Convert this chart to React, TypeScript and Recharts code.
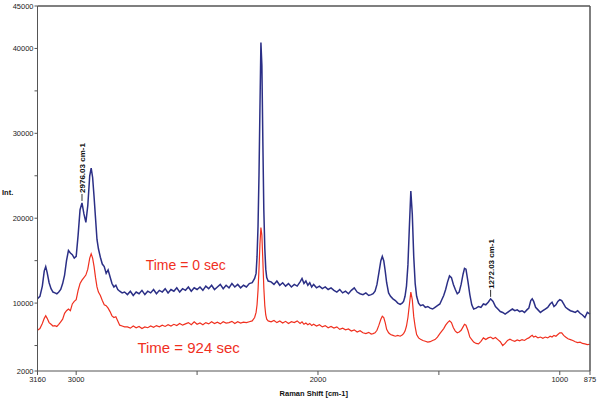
import { LineChart, Line, XAxis, YAxis, ReferenceDot, ReferenceLine } from 'recharts';

// Raman shift (cm-1) sample positions
const shifts = [
  3160, 3150, 3140, 3132, 3126, 3120, 3112, 3104, 3096, 3088, 3080, 3072, 3064, 3056, 3048, 3040, 3032, 3024, 3016, 3008,
  3000, 2992, 2984, 2976, 2968, 2960, 2952, 2944, 2938, 2932, 2926, 2920, 2914, 2908, 2900, 2892, 2884, 2876, 2868, 2860,
  2852, 2844, 2836, 2828, 2820, 2810, 2800,
  2788, 2776, 2764, 2752, 2740, 2728, 2716, 2704, 2692, 2680, 2668, 2656, 2644, 2632, 2620, 2608, 2596, 2584, 2572, 2560,
  2548, 2536, 2524, 2512, 2500, 2488, 2476, 2464, 2452, 2440, 2428, 2416, 2404, 2392, 2380, 2368, 2356, 2344, 2332, 2320,
  2308, 2296, 2284, 2272, 2262,
  2256, 2252, 2248, 2244, 2240, 2236, 2232, 2228, 2224, 2220, 2216, 2212, 2206,
  2194, 2182, 2170, 2158, 2146, 2134, 2122, 2110, 2098, 2086, 2074, 2066, 2058, 2050, 2042, 2034, 2026, 2018, 2006, 1994,
  1982, 1970, 1958, 1946, 1934, 1922, 1910, 1898, 1886, 1874, 1862, 1850, 1838, 1826, 1814, 1802, 1790, 1780,
  1772, 1764, 1756, 1748, 1740, 1734, 1728, 1722, 1716, 1708, 1700, 1690, 1680, 1670, 1660, 1652, 1646, 1640,
  1634, 1628, 1622, 1616, 1610, 1604, 1598, 1592, 1584, 1576, 1566, 1556, 1546, 1536, 1526, 1516, 1506, 1496, 1488, 1480,
  1472, 1464, 1456, 1448, 1440, 1432, 1424, 1416, 1408, 1400, 1394, 1388, 1380, 1372, 1364, 1356, 1346, 1336, 1326, 1316,
  1306, 1296, 1286, 1276, 1266, 1256, 1246, 1236, 1226, 1216, 1206, 1196, 1186, 1176, 1166, 1156, 1146, 1136, 1128, 1120,
  1114, 1108, 1100, 1090, 1080, 1070, 1060, 1050, 1040, 1032, 1024, 1016, 1008, 1000, 992, 984, 976, 966, 956, 946,
  936, 926, 916, 906, 896, 886, 875,
];

// Time = 0 sec (blue)
const time0 = [
  10500, 10800, 12000, 13800, 14300, 13600, 12400, 11700, 11300, 11200, 11100, 11300, 11600, 12300, 13300, 15000, 16200, 15900, 15700, 15300,
  15500, 18000, 21000, 21800, 20500, 19500, 21500, 25000, 25900, 24800, 22500, 20000, 17500, 16400, 15400, 14600, 14300, 13500, 13900, 13100,
  12300, 11900, 12100, 11600, 11400, 11200, 11300,
  11000, 11400, 10900, 11300, 11100, 11500, 11000, 11400, 11200, 11600, 11100, 11500, 11300, 11700, 11200, 11600, 11400, 11800, 11300, 11700,
  11500, 11900, 11400, 11800, 11600, 11900, 11500, 12000, 11700, 12100, 11600, 11900, 12200, 11700, 12100, 11800, 12300, 11900, 12200, 11800,
  12100, 11900, 12300, 12400, 12900,
  13500, 15500, 19000, 25000, 33000, 40700, 38000, 29000, 21000, 16500, 14000, 13000, 12600,
  12500, 12200, 12600, 12100, 12400, 12000, 12300, 11900, 12200, 12000, 12500, 12900, 12300, 12600, 12100, 12400, 11900, 12200, 11800, 12000,
  11700, 11900, 11600, 11800, 11500, 11300, 11600, 11200, 11400, 11100, 11500, 11800, 11300, 11100, 11000, 11200, 10900, 11000,
  11100, 11400, 12200, 13600, 15000, 15500, 15000, 13800, 12400, 11200, 10800, 10500, 10300, 10000, 9850, 10000, 10200, 10800,
  12000, 14500, 19000, 23200, 20500, 15500, 12300, 10800, 10000, 9700, 9800, 9500, 9600, 9400, 9300, 9500, 9700, 9900, 10400, 10900,
  11600, 12500, 13200, 13000, 12200, 11600, 11100, 11300, 12200, 13400, 14100, 14000, 12600, 11000, 9800, 9300, 9400, 9600, 9500, 9900,
  9800, 10100, 10500, 10200, 9600, 9300, 9000, 8900, 8700, 8900, 9100, 9300, 9100, 9200, 9000, 9100, 8900, 9200, 9400, 10300,
  10500, 10200, 9500, 9200, 8900, 9100, 9300, 9500, 9900, 10100, 9600, 9800, 10200, 10400, 10300, 9900, 9500, 9300, 9100, 9000,
  8900, 9100, 8800, 8600, 8300, 8900, 8700,
];

// Time = 924 sec (red)
const time924 = [
  6800, 7000, 7600, 8200, 8500, 8200, 7700, 7500, 7300, 7350, 7250, 7500, 7800, 8100, 8800, 9100, 9300, 9100, 9900, 10200,
  10400, 11500, 12300, 12700, 13000, 13300, 14000, 15300, 15800, 15300, 14300, 13000, 11900, 11300, 10900, 10300, 9800, 9700, 9400, 9000,
  8500, 8300, 8400, 7900, 7400, 7300, 7200,
  7200, 7050, 7300, 7100, 7250, 7000, 7200, 7100, 7300, 7150, 7350, 7200, 7400, 7250, 7450, 7300, 7500, 7350, 7600, 7400,
  7550, 7700, 7450, 7800, 7500, 7650, 7450, 7700, 7550, 7800, 7600, 7750, 7550, 7800, 7650, 7700, 7850, 7600, 7800, 7650,
  7750, 7700, 7800, 7900, 8300,
  8900, 9800, 11500, 14000, 17000, 18900, 18000, 15000, 11800, 9700, 8600, 8100, 7900,
  7800, 7950, 7700, 7900, 7650, 7850, 7600, 7800, 7700, 7900, 7600, 7800, 7500, 7650, 7450, 7600, 7350, 7500, 7300, 7450,
  7200, 7350, 7100, 7250, 7050, 7200, 6900, 7050, 6850, 6950, 6700, 6850, 6600, 6750, 6500, 6400, 6550, 6350,
  6400, 6500, 6800, 7400, 8100, 8450, 8300, 7700, 6900, 6500, 6300, 6200, 6100, 6200, 6100, 6250, 6400, 6700,
  7300, 8300, 9800, 11300, 10400, 8400, 7200, 6300, 5900, 5750, 5600, 5500, 5400, 5450, 5600, 5700, 6000, 6400, 6700, 7000,
  7400, 7700, 7900, 7700, 7100, 6700, 6500, 6600, 6800, 7200, 7500, 7400, 6800, 6000, 5700, 5400, 5250, 5200, 5500, 5900,
  5700, 5900, 6000, 5800, 5950, 5700, 5450, 5000, 5250, 5600, 5750, 5600, 5500, 5650, 5550, 5700, 5600, 5800, 5900, 6100,
  6200, 6000, 6100, 5900, 6000, 5850, 6000, 5900, 6100, 6000, 6200, 6100, 6300, 6500, 6500, 6200, 6000, 5800, 5700, 5600,
  5450, 5350, 5400, 5250, 5200, 5100, 5150,
];

const xTicks = [3160, 3000, 2500, 2000, 1500, 1000, 875];
const xBlank = [2500, 1500];
const yTicks = [2000, 5000, 10000, 15000, 20000, 25000, 30000, 35000, 40000, 45000];
const yBlank = [5000, 15000, 25000, 35000];

const peaks = [
  { shift: 2976, value: 21800, text: '2976.03 cm-1' },
  { shift: 1286, value: 10500, text: '1272.03 cm-1' },
];

const rows = shifts.map((s, i) => ({ shift: s, t0: time0[i], t924: time924[i] }));

const FONT = '"Liberation Sans", Arial, sans-serif';
const BLUE = '#2b2f86';
const RED = '#f0301f';
const AXIS = '#555555';

const PeakLabel = (props: any) => {
  const vb = props.viewBox || {};
  const cx = (vb.x ?? 0) + (vb.width ?? 0) / 2;
  const cy = (vb.y ?? 0) + (vb.height ?? 0) / 2;
  return (
    <g>
      <line x1={cx} y1={cy - 2} x2={cx} y2={cy - 9} stroke="#333" strokeWidth={1} />
      <text
        transform={`translate(${cx + 3},${cy - 10}) rotate(-90)`}
        fontFamily={FONT}
        fontSize={8}
        fontWeight="bold"
        fill="#111"
      >
        {props.text}
      </text>
    </g>
  );
};

export default function App() {
  return (
    <div style={{ width: 604, height: 398, background: '#fff' }}>
      <style>{'body{margin:0}'}</style>
      <LineChart
        width={604}
        height={398}
        data={rows}
        margin={{ top: 6, right: 14, left: 0, bottom: 0 }}
      >
        <XAxis
          dataKey="shift"
          type="number"
          domain={[875, 3160]}
          reversed
          ticks={xTicks}
          interval={0}
          tickFormatter={(v) => (xBlank.includes(v) ? '' : String(v))}
          tick={{ fontSize: 7.5, fill: '#222', fontFamily: FONT }}
          tickSize={4}
          tickMargin={2}
          stroke={AXIS}
          height={27}
          label={{ value: 'Raman Shift [cm-1]', position: 'insideBottom', offset: 2, fontSize: 7.5, fontWeight: 'bold', fill: '#111', fontFamily: FONT }}
        />
        <YAxis
          type="number"
          domain={[2000, 45000]}
          ticks={yTicks}
          interval={0}
          tickFormatter={(v) => (yBlank.includes(v) ? '' : String(v))}
          tick={{ fontSize: 7.5, fill: '#222', fontFamily: FONT }}
          tickSize={3}
          tickMargin={1}
          stroke={AXIS}
          width={37.5}
          label={{ value: 'Int.', position: 'insideLeft', offset: 2, dy: 4, fontSize: 7.5, fontWeight: 'bold', fill: '#111', fontFamily: FONT }}
        />
        <Line
          type="linear"
          dataKey="t0"
          stroke={BLUE}
          strokeWidth={1.5}
          dot={false}
          isAnimationActive={false}
        />
        <Line
          type="linear"
          dataKey="t924"
          stroke={RED}
          strokeWidth={1.2}
          dot={false}
          isAnimationActive={false}
        />
        {/* plot frame: top and right edges */}
        <ReferenceLine y={45000} stroke="#555" strokeWidth={1.5} ifOverflow="visible" />
        <ReferenceLine x={875} stroke="#555" strokeWidth={1.5} ifOverflow="visible" />
        {peaks.map((p) => (
          <ReferenceDot
            key={p.text}
            x={p.shift}
            y={p.value}
            r={0}
            fill="none"
            stroke="none"
            label={<PeakLabel text={p.text} />}
          />
        ))}
        <ReferenceDot
          x={2547}
          y={14500}
          r={0}
          fill="none"
          stroke="none"
          label={{ value: 'Time = 0 sec', position: 'center', fontSize: 14, fill: RED, fontFamily: FONT }}
        />
        <ReferenceDot
          x={2535}
          y={4700}
          r={0}
          fill="none"
          stroke="none"
          label={{ value: 'Time = 924 sec', position: 'center', fontSize: 15, fill: RED, fontFamily: FONT }}
        />
      </LineChart>
    </div>
  );
}
